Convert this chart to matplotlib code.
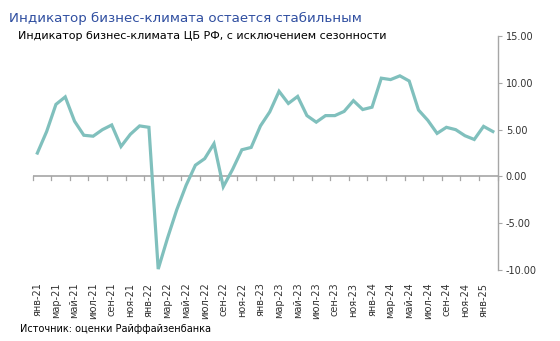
import matplotlib
matplotlib.use("Agg")
import matplotlib.pyplot as plt
import numpy as np

months = ["янв", "фев", "мар", "апр", "май", "июн", "июл", "авг", "сен", "окт", "ноя", "дек"]
years = ["21", "22", "23", "24", "25"]
categories = [f"{m}-{y}" for y in years for m in months][:50]

values = [2.5, 4.8, 7.7, 8.5, 5.9, 4.4, 4.3, 5.0, 5.5, 3.2, 4.5, 5.4,
          5.25, -9.9, -6.6, -3.55, -0.95, 1.2, 1.9, 3.5, -1.1, 0.75, 2.85, 3.1,
          5.4, 6.9, 9.1, 7.8, 8.55, 6.5, 5.8, 6.5, 6.5, 6.95, 8.1, 7.15,
          7.4, 10.5, 10.35, 10.75, 10.2, 7.1, 6.0, 4.6, 5.25, 5.0, 4.35, 3.95,
          5.35, 4.8]

yticks = [-10, -5, 0, 5, 10, 15]

title = "Индикатор бизнес-климата остается стабильным"
subtitle = "Индикатор бизнес-климата ЦБ РФ, с исключением сезонности"
source = "Источник: оценки Райффайзенбанка"

plt.rcParams['font.family'] = ['DejaVu Sans']

fig = plt.figure(figsize=(5.6, 3.41), dpi=100)
ax = fig.add_axes([0.0584, 0.2082, 0.830, 0.686])

x = np.arange(len(values))
ax.plot(x, values, color="#80C0BD", lw=2.3, solid_joinstyle="miter")

ax.set_xlim(-0.5, len(values) - 0.5)
ax.set_ylim(-10, 15)

# y axis on the right
ax.yaxis.tick_right()
ax.set_yticks(yticks)
ax.set_yticklabels([f"{v:.2f}" for v in yticks], fontsize=7, color="#333333")
ax.tick_params(axis="y", length=3, width=0.8, color="#A6A6A6", pad=3)
for s in ["left", "top", "bottom"]:
    ax.spines[s].set_visible(False)
ax.spines["right"].set_color("#A6A6A6")
ax.spines["right"].set_linewidth(1.0)

# zero line as category axis
ax.axhline(0, color="#A6A6A6", lw=1.2, zorder=1)
tick_pos = np.arange(-0.5, len(values), 2)
for t in tick_pos:
    ax.plot([t, t], [0, -0.35], color="#A6A6A6", lw=0.9, zorder=1, clip_on=False)

# category labels at the bottom
ax.set_xticks(x[::2])
ax.set_xticklabels(categories[::2], rotation=90, fontsize=7, color="#333333")
ax.tick_params(axis="x", length=0, pad=9)

fig.text(0.016, 0.935, title, fontsize=9.6, color="#2F4EA0", ha="left", va="baseline")
fig.text(0.032, 0.885, subtitle, fontsize=8, color="#000000", ha="left", va="baseline")
fig.text(0.035, 0.027, source, fontsize=7, color="#000000", ha="left", va="baseline")

fig.savefig("out.png", dpi=100)
